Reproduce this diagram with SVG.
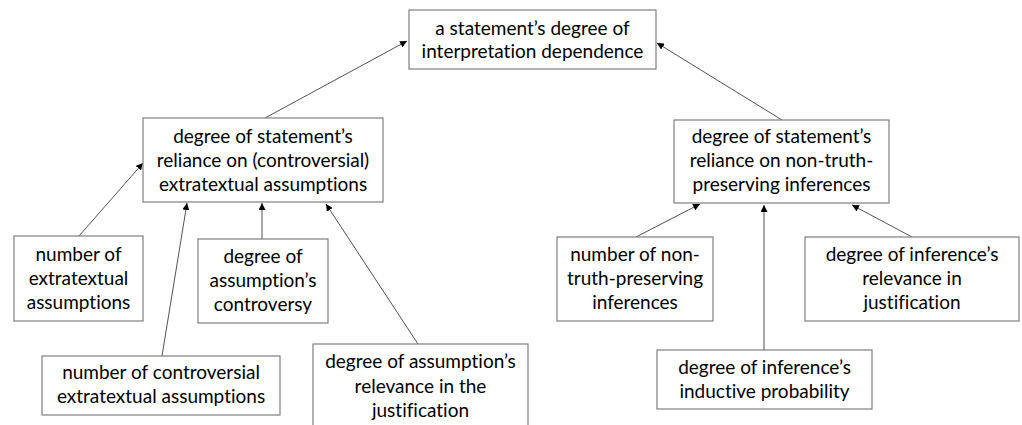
<svg xmlns="http://www.w3.org/2000/svg" width="1022" height="425" viewBox="0 0 1022 425">
<style>
.box{fill:#fff;stroke:#7f7f7f;stroke-width:1.2}
text{font-family:Lato,"Open Sans","Liberation Sans",sans-serif;font-size:19px;fill:#000;text-anchor:middle;font-variant-ligatures:none}
.c{stroke:#404040;stroke-width:0.9;fill:none;marker-end:url(#ah)}
</style>
<defs>
<marker id="ah" viewBox="0 0 10 10" refX="10" refY="5" markerWidth="7" markerHeight="7" markerUnits="userSpaceOnUse" orient="auto">
<path d="M0,0 L10,5 L0,10 z" fill="#000"/>
</marker>
</defs>
<rect width="1022" height="425" fill="#fff"/>
<g id="connectors">
<line class="c" x1="265" y1="118" x2="407" y2="41"/>
<line class="c" x1="782" y1="120" x2="657" y2="43"/>
<line class="c" x1="79" y1="236" x2="143" y2="163"/>
<line class="c" x1="162" y1="356" x2="187" y2="203"/>
<line class="c" x1="262" y1="239" x2="262" y2="203"/>
<line class="c" x1="418" y1="344" x2="326" y2="204"/>
<line class="c" x1="636" y1="237" x2="700" y2="204"/>
<line class="c" x1="764" y1="350" x2="764" y2="205"/>
<line class="c" x1="912" y1="237" x2="852" y2="205"/>
</g>
<g id="n-top">
<rect class="box" x="409" y="10" width="247" height="59"/>
<text x="532.5" y="35">a statement’s degree of</text>
<text x="532.5" y="58">interpretation dependence</text>
</g>
<g id="n-left">
<rect class="box" x="143" y="118" width="240" height="84"/>
<text x="263" y="143">degree of statement’s</text>
<text x="263" y="167">reliance on (controversial)</text>
<text x="263" y="191">extratextual assumptions</text>
</g>
<g id="n-right">
<rect class="box" x="674" y="120" width="215" height="83"/>
<text x="781.5" y="143">degree of statement’s</text>
<text x="781.5" y="167">reliance on non-truth-</text>
<text x="781.5" y="191">preserving inferences</text>
</g>
<g id="n-num-extra">
<rect class="box" x="14" y="236" width="129" height="85"/>
<text x="78.5" y="261">number of</text>
<text x="78.5" y="285">extratextual</text>
<text x="78.5" y="309">assumptions</text>
</g>
<g id="n-controversy">
<rect class="box" x="198" y="239" width="130" height="84"/>
<text x="263" y="263">degree of</text>
<text x="263" y="287">assumption’s</text>
<text x="263" y="311">controversy</text>
</g>
<g id="n-num-contro">
<rect class="box" x="42" y="356" width="238" height="59"/>
<text x="161" y="379">number of controversial</text>
<text x="161" y="403">extratextual assumptions</text>
</g>
<g id="n-relevance">
<rect class="box" x="313" y="344" width="215" height="95"/>
<text x="420.5" y="368">degree of assumption’s</text>
<text x="420.5" y="393">relevance in the</text>
<text x="420.5" y="417">justification</text>
</g>
<g id="n-num-nontruth">
<rect class="box" x="557" y="237" width="156" height="84"/>
<text x="635" y="261">number of non-</text>
<text x="635" y="285">truth-preserving</text>
<text x="635" y="309">inferences</text>
</g>
<g id="n-inf-relevance">
<rect class="box" x="805" y="237" width="214" height="84"/>
<text x="912" y="261">degree of inference’s</text>
<text x="912" y="285">relevance in</text>
<text x="912" y="309">justification</text>
</g>
<g id="n-inductive">
<rect class="box" x="657" y="350" width="215" height="59"/>
<text x="764.5" y="374">degree of inference’s</text>
<text x="764.5" y="398">inductive probability</text>
</g>
</svg>
